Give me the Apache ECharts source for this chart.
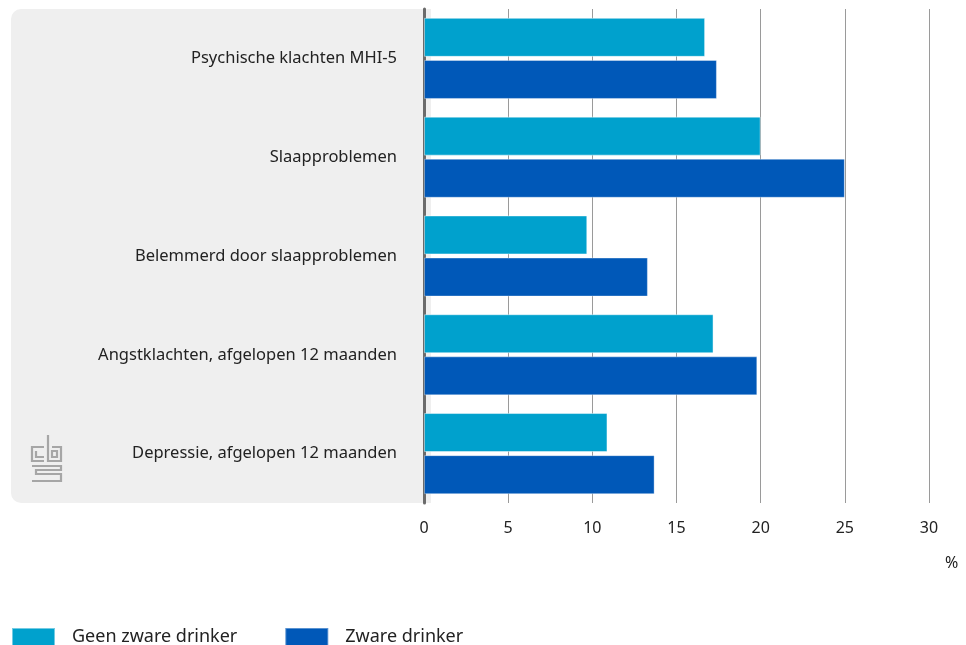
<!DOCTYPE html>
<html><head><meta charset="utf-8">
<script src="https://cdn.jsdelivr.net/npm/echarts@6/dist/echarts.min.js"></script>
<style>html,body{margin:0;padding:0;background:#fff}#c{width:966px;height:645px}</style>
</head><body><div id="c"></div>
<script>
var categories = ['Psychische klachten MHI-5','Slaapproblemen','Belemmerd door slaapproblemen','Angstklachten, afgelopen 12 maanden','Depressie, afgelopen 12 maanden'];
var seriesNames = ['Geen zware drinker','Zware drinker'];
var geenZwareDrinker = [16.7, 20.0, 9.7, 17.2, 10.9];
var zwareDrinker = [17.4, 25.0, 13.3, 19.8, 13.7];
var xTicks = [0, 5, 10, 15, 20, 25, 30];
var unitLabel = '%';

var FONT = '"Noto Sans", Roboto, sans-serif';
var chart = echarts.init(document.getElementById('c'), null, {renderer:'canvas'});
var logoStyle = {stroke:'#a6a6a6', lineWidth:2.2, fill:null};
chart.setOption({
  animation:false,
  textStyle:{fontFamily:FONT},
  graphic:[
    {type:'rect', left:11, top:9, z:-10, shape:{width:420, height:494, r:[10,0,0,10]}, style:{fill:'#efefef'}},
    {type:'polyline', z:-5, shape:{points:[[44,447],[32,447],[32,461],[44,461]]}, style:logoStyle},
    {type:'polyline', z:-5, shape:{points:[[36,451],[36,457],[44,457]]}, style:logoStyle},
    {type:'polyline', z:-5, shape:{points:[[48,435],[48,461],[61,461],[61,447],[52,447]]}, style:logoStyle},
    {type:'rect', z:-5, shape:{x:52, y:451, width:5, height:6}, style:logoStyle},
    {type:'polyline', z:-5, shape:{points:[[32,466],[61,466],[61,470],[36,470],[36,474],[61,474],[61,481],[32,481]]}, style:logoStyle},
    {type:'text', left:945, top:555, style:{text:unitLabel, fontSize:16, fill:'#222', fontFamily:FONT}}
  ],
  legend:{
    left:11, top:627, padding:0, itemWidth:43, itemHeight:18, itemGap:47,
    icon:'rect',
    textStyle:{fontSize:18, color:'#222', padding:[0,0,0,12], fontFamily:FONT},
    data:seriesNames
  },
  grid:{left:424, right:37, top:9, bottom:142, containLabel:false},
  xAxis:{
    type:'value', min:xTicks[0], max:xTicks[xTicks.length-1], interval:xTicks[1]-xTicks[0],
    axisLine:{show:false}, axisTick:{show:false},
    splitLine:{show:true, lineStyle:{color:'#9a9a9a', width:1}},
    axisLabel:{fontSize:16, color:'#222', margin:17, fontFamily:FONT}
  },
  yAxis:{
    type:'category', data:categories, inverse:true,
    axisLine:{show:true, lineStyle:{color:'#6b6b6b', width:3}},
    axisTick:{show:false},
    axisLabel:{fontSize:16.5, color:'#222', margin:27, fontFamily:FONT, padding:[4,0,0,0]}
  },
  series:[
    {name:seriesNames[0], type:'bar', data:geenZwareDrinker, barWidth:39, barGap:'8%',
     itemStyle:{color:'#00a1cd', borderColor:'rgba(255,255,255,0.45)', borderWidth:1}},
    {name:seriesNames[1], type:'bar', data:zwareDrinker, barWidth:39, barGap:'8%',
     itemStyle:{color:'#0058b8', borderColor:'rgba(255,255,255,0.35)', borderWidth:1}}
  ]
});
</script></body></html>
